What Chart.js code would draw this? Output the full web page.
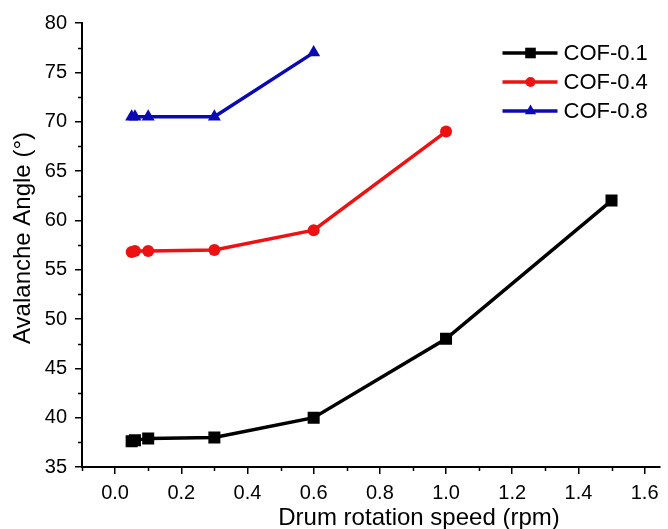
<!DOCTYPE html>
<html>
<head>
<meta charset="utf-8">
<script src="https://cdn.jsdelivr.net/npm/chart.js@4/dist/chart.umd.min.js"></script>
<style>
	html, body { margin: 0; padding: 0; background: #fff; }
	#wrap { width: 668px; height: 529px; }
</style>
</head>
<body>
<div id="wrap"><canvas id="chart" width="668" height="529"></canvas></div>
<script>
// DATA
var seriesNames = ['COF-0.1', 'COF-0.4', 'COF-0.8'];
var speed01 = [0.05, 0.06, 0.1, 0.3, 0.6, 1.0, 1.5];
var angle01 = [37.6, 37.7, 37.9, 38.0, 40.0, 48.0, 62.0];
var speed04 = [0.05, 0.06, 0.1, 0.3, 0.6, 1.0];
var angle04 = [56.8, 56.9, 56.9, 57.0, 59.0, 69.0];
var speed08 = [0.05, 0.06, 0.1, 0.3, 0.6];
var angle08 = [70.5, 70.5, 70.5, 70.5, 77.0];
var xTicks = [0.0, 0.2, 0.4, 0.6, 0.8, 1.0, 1.2, 1.4, 1.6];
var xMinorTicks = [-0.1, 0.1, 0.3, 0.5, 0.7, 0.9, 1.1, 1.3, 1.5];
var yTicks = [35, 40, 45, 50, 55, 60, 65, 70, 75, 80];
var yMinorTicks = [37.5, 42.5, 47.5, 52.5, 57.5, 62.5, 67.5, 72.5, 77.5];
var xTitle = 'Drum rotation speed (rpm)';
var yTitle = 'Avalanche Angle (°)';

var colors = ['#000000', '#ee1111', '#0a0ab4'];
var styles = ['rect', 'circle', 'triangle'];
var radii = [8.5, 6, 7.5];

function toPoints(xs, ys){
	var pts = new Array();
	for(var i=0;i<xs.length;i++){
		pts[i] = {x: xs[i], y: ys[i]};
	}
	return pts;
}

var allX = [speed01, speed04, speed08];
var allY = [angle01, angle04, angle08];
var datasets = new Array();
for(var i=0;i<seriesNames.length;i++){
	datasets[i] = {
		label: seriesNames[i],
		data: toPoints(allX[i], allY[i]),
		showLine: true,
		borderColor: colors[i],
		backgroundColor: colors[i],
		borderWidth: 3.5,
		pointStyle: styles[i],
		pointRadius: radii[i],
		pointBorderWidth: 0,
		pointHoverRadius: radii[i]
	};
}

var FONT = '"Liberation Sans", Arial, sans-serif';

// minor ticks, axis titles and legend drawn by hand
var extras = {
	id: 'extras',
	afterDraw: function(chart){
		var c = chart.ctx;
		var xs = chart.scales.x, ys = chart.scales.y;
		var area = chart.chartArea;
		c.save();
		c.strokeStyle = '#000';
		c.lineWidth = 1.5;
		c.beginPath();
		for(var i=0;i<xMinorTicks.length;i++){
			var px = Math.round(xs.getPixelForValue(xMinorTicks[i])) + 0.5;
			c.moveTo(px, area.bottom);
			c.lineTo(px, area.bottom + 4);
		}
		for(var j=0;j<yMinorTicks.length;j++){
			var py = Math.round(ys.getPixelForValue(yMinorTicks[j])) + 0.5;
			c.moveTo(area.left, py);
			c.lineTo(area.left - 4, py);
		}
		c.stroke();

		// axis titles (sit a bit off-centre in the original)
		c.fillStyle = '#000';
		c.font = '24px ' + FONT;
		c.textAlign = 'center';
		c.textBaseline = 'middle';
		c.fillText(xTitle, area.left + 337, area.bottom + 51);
		c.save();
		c.translate(23, area.top + 215);
		c.rotate(-Math.PI/2);
		c.fillText(yTitle, 0, 0);
		c.restore();

		// legend
		var lx = area.right - 157, ty = area.top + 30;
		c.font = '22px ' + FONT;
		c.textAlign = 'left';
		for(var k=0;k<datasets.length;k++){
			var yy = ty + k*29;
			c.strokeStyle = colors[k];
			c.lineWidth = 3.5;
			c.beginPath();
			c.moveTo(lx, yy);
			c.lineTo(lx + 55, yy);
			c.stroke();
			c.fillStyle = colors[k];
			Chart.helpers.drawPoint(c, {pointStyle: styles[k], radius: radii[k] - 1, borderWidth: 0}, lx + 28, yy);
			c.fillStyle = '#000';
			c.fillText(seriesNames[k], lx + 61, yy + 1);
		}
		c.restore();
	}
};

new Chart(document.getElementById('chart'), {
	type: 'scatter',
	data: { datasets: datasets },
	plugins: [extras],
	options: {
		responsive: false,
		animation: false,
		layout: { padding: { left: 0, right: 3, top: 23, bottom: 0 } },
		plugins: {
			legend: { display: false },
			tooltip: { enabled: false }
		},
		scales: {
			x: {
				type: 'linear',
				min: -0.1,
				max: 1.645,
				afterBuildTicks: function(axis){
					axis.ticks = xTicks.map(function(v){ return {value: v}; });
				},
				afterFit: function(axis){ axis.height = 62; },
				ticks: {
					color: '#000',
					font: { family: FONT, size: 20 },
					padding: 7,
					maxRotation: 0,
					callback: function(v){ return Number(v).toFixed(1); }
				},
				grid: { drawOnChartArea: false, drawTicks: true, tickLength: 7, color: '#000', lineWidth: 1.5 },
				border: { display: true, color: '#000', width: 2 }
			},
			y: {
				type: 'linear',
				min: 35,
				max: 80,
				afterBuildTicks: function(axis){
					axis.ticks = yTicks.map(function(v){ return {value: v}; });
				},
				afterFit: function(axis){ axis.width = 82; },
				ticks: {
					color: '#000',
					font: { family: FONT, size: 20 },
					padding: 8
				},
				grid: { drawOnChartArea: false, drawTicks: true, tickLength: 7, color: '#000', lineWidth: 1.5 },
				border: { display: true, color: '#000', width: 2 }
			}
		}
	}
});
</script>
</body>
</html>
